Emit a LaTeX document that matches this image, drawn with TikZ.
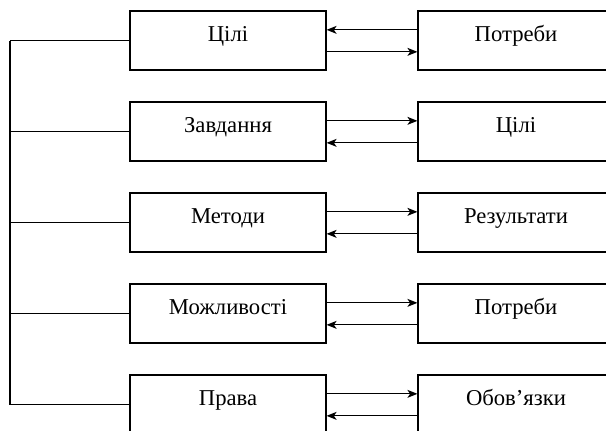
\documentclass[tikz,border=0pt]{standalone}
\usepackage{fontspec}
\setmainfont{Liberation Serif}
\usetikzlibrary{arrows.meta}

\begin{document}
\begin{tikzpicture}[x=0.75pt,y=-0.75pt,line width=0.9pt,
        >={Stealth[length=7.5pt,width=6pt,inset=2pt]},
        leftbox/.style={draw,minimum width=147pt,minimum height=44.25pt,inner sep=0pt,
            text height=12pt,text depth=9.8pt,font=\fontsize{17}{20}\selectfont},
        rightbox/.style={leftbox}]
    \useasboundingbox (0,0) rectangle (606,430);
    \clip (0,0) rectangle (606,430);
    \foreach \i/\a/\b in {1/Цілі/Потреби,2/Завдання/Цілі,3/Методи/Результати,4/Можливості/Потреби,5/Права/Обов’язки} {
        \node[leftbox] (l\i) at (228,{40.5+91*(\i-1)}) {\a};
        \node[rightbox] (r\i) at (516,{40.5+91*(\i-1)}) {\b};
        \coordinate (t\i) at (10,{40.5+91*(\i-1)});
        \draw (t\i) -- (l\i.west);
    }
    \draw (t1) -- (t5);
    % first pair goes the other way round
    \draw[->] ([yshift=8pt]r1.west) -- ([yshift=8pt]l1.east);
    \draw[->] ([yshift=-8.5pt]l1.east) -- ([yshift=-8.5pt]r1.west);
    \foreach \i in {2,...,5} {
        \draw[->] ([yshift=8pt]l\i.east) -- ([yshift=8pt]r\i.west);
        \draw[->] ([yshift=-8.5pt]r\i.west) -- ([yshift=-8.5pt]l\i.east);
    }
\end{tikzpicture}
\end{document}
